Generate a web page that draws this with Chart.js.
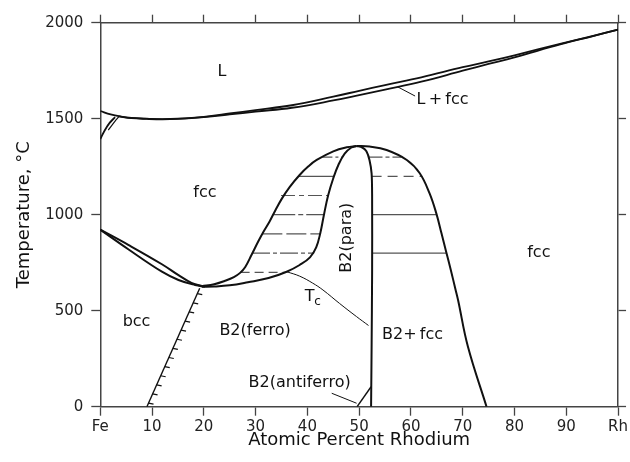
<!DOCTYPE html>
<html>
<head>
<meta charset="utf-8">
<script src="https://cdn.jsdelivr.net/npm/chart.js@4.4.1/dist/chart.umd.min.js"></script>
<style>
  html, body { margin: 0; background: #fff; }
  #wrap { width: 630px; height: 462px; }
</style>
</head>
<body>
<div id="wrap"><canvas id="phaseChart" width="630" height="462"></canvas></div>
<script>
// Fe-Rh phase diagram: temperature (°C) vs atomic percent rhodium
const xTicks = [0, 10, 20, 30, 40, 50, 60, 70, 80, 90, 100];
const xTickLabels = ['Fe', '10', '20', '30', '40', '50', '60', '70', '80', '90', 'Rh'];
const yTicks = [0, 500, 1000, 1500, 2000];

// liquidus / solidus
const liquidusX = [0, 2, 4, 6, 9, 12, 15, 20, 25, 30, 37, 45, 50, 55, 62, 70, 75, 80, 89, 95, 100];
const liquidusT = [1540, 1522, 1511, 1504, 1500, 1498, 1500, 1510, 1527, 1545, 1570, 1615, 1645, 1675, 1715, 1768, 1798, 1830, 1891, 1930, 1964];
const solidusX = [3.5, 6, 9, 12, 15, 20, 25, 30, 37, 45, 50, 55, 62, 70, 75, 80, 89, 95, 100];
const solidusT = [1512, 1503, 1499, 1497, 1499, 1508, 1522, 1537, 1557, 1595, 1623, 1652, 1693, 1750, 1785, 1820, 1888, 1929, 1964];

// small delta (bcc) loop at the Fe side
const deltaAX = [0, 0.9, 1.8, 2.85];
const deltaAT = [1394, 1441, 1478, 1508];
const deltaBX = [1.55, 2.3, 3.0, 3.6];
const deltaBT = [1441, 1468, 1492, 1512];

// fcc / bcc boundaries
const gammaX = [0, 5.4, 11.9, 15.1, 17.6, 19.6];
const gammaT = [922, 843, 742, 685, 645, 629];
const alphaX = [0, 5.4, 11.9, 15.1, 18.3, 20.2];
const alphaT = [922, 820, 703, 660, 634, 625];

// B2 phase field
const b2LeftX = [19.6, 22, 25, 28.5, 32.5, 36, 38.5, 40.5, 41.7, 42.5, 43.2, 44, 45, 46, 47.2, 48.5, 49.5];
const b2LeftT = [625, 626, 632, 648, 670, 703, 738, 778, 830, 905, 1000, 1100, 1190, 1260, 1318, 1350, 1358];
const b2RightX = [49.5, 50.6, 51.4, 52.0, 52.4, 52.5, 52.5, 52.4, 52.3];
const b2RightT = [1358, 1350, 1330, 1284, 1215, 1100, 700, 300, 0];

// fcc boundaries of the two-phase dome
const fccLeftX = [19.6, 22, 24, 25.8, 27, 28, 29.2, 30.5, 31.6, 32.7, 33.8, 35.1, 36.6, 38.5, 40.2, 41.8, 45, 47.6, 49.5];
const fccLeftT = [628, 638, 655, 675, 697, 728, 790, 860, 915, 965, 1022, 1085, 1145, 1207, 1252, 1285, 1330, 1351, 1358];
const fccRightX = [49.5, 52, 55.3, 59.2, 61.7, 63.6, 64.9, 65.9, 66.8, 67.7, 68.55, 69.1, 71.0, 74.6];
const fccRightT = [1358, 1355, 1337, 1285, 1216, 1111, 1007, 903, 807, 712, 617, 556, 313, 0];

// tie lines
const tieLeftT = [1300, 1200, 1100, 1000, 900, 800, 700];
const tieLeftFrom = [42.9, 38.3, 34.9, 33.4, 31.3, 29.3, 27.1];
const tieLeftTo = [46.8, 45.1, 44.0, 43.2, 42.5, 41.3, 35.9];
const tieRightT = [1300, 1200, 1000, 800];
const tieRightFrom = [51.8, 52.4, 52.5, 52.5];
const tieRightTo = [58.1, 62.0, 64.9, 66.8];

// magnetic transitions
const tcX = [36, 38.5, 41, 43, 46.2, 49.5, 51.8];
const tcT = [703, 680, 644, 608, 538, 469, 423];
const antiX = [52.3, 49.6];
const antiT = [104, 0];
const martX = [9.0, 19.2];
const martT = [0, 617];

const pts = (xs, ts) => xs.map((x, i) => ({ x: x, y: ts[i] }));

function curve(xs, ts, width, extra) {
  return Object.assign({
    data: pts(xs, ts),
    showLine: true,
    borderColor: '#111',
    borderWidth: width,
    pointRadius: 0,
    tension: 0.4,
    fill: false
  }, extra || {});
}

const straight = { tension: 0 };
const leftDash = [[10, 3, 3, 3], [40, 2], [14, 4, 5, 4], [22, 3, 5, 3], [20, 4], [18, 3, 4, 3], [9, 5]];
const rightDash = [[14, 3, 4, 3], [10, 6], [], []];

const datasets = [
  curve(liquidusX, liquidusT, 1.8),
  curve(solidusX, solidusT, 1.8),
  curve(deltaAX, deltaAT, 1.8),
  curve(deltaBX, deltaBT, 1.2),
  curve(gammaX, gammaT, 2),
  curve(alphaX, alphaT, 2),
  curve(b2LeftX, b2LeftT, 2),
  curve(b2RightX, b2RightT, 2, { tension: 0.3 }),
  curve(fccLeftX, fccLeftT, 2),
  curve(fccRightX, fccRightT, 2),
  curve(tcX, tcT, 1),
  curve(antiX, antiT, 1.4, straight),
  curve(martX, martT, 1.4, straight),
  curve([44.7, 49.5], [70, 18], 1, straight),
  curve([57.5, 60.8], [1665, 1618], 1, straight)
];
tieLeftT.forEach((t, i) => datasets.push(curve([tieLeftFrom[i], tieLeftTo[i]], [t, t], 1.2,
  { tension: 0, borderColor: '#555', borderDash: leftDash[i] })));
tieRightT.forEach((t, i) => datasets.push(curve([tieRightFrom[i], tieRightTo[i]], [t, t], 1.2,
  { tension: 0, borderColor: '#555', borderDash: rightDash[i] })));

// phase labels: [text, at.% Rh, temperature, rotated]
const labels = [
  ['L', 23.5, 1743, false],
  ['L\u2009+\u2009fcc', 66.1, 1600, false],
  ['fcc', 20.2, 1113, false],
  ['bcc', 7.0, 443, false],
  ['B2(ferro)', 29.9, 396, false],
  ['B2(para)', 47.6, 880, true],
  ['B2+\u2009fcc', 60.3, 373, false],
  ['B2(antiferro)', 38.5, 122, false],
  ['fcc', 84.7, 800, false]
];

const annotate = {
  id: 'annotate',
  afterDatasetsDraw(chart) {
    const { ctx, scales: { x, y } } = chart;
    ctx.save();
    ctx.fillStyle = '#111';
    ctx.font = '16px "DejaVu Sans"';
    ctx.textAlign = 'center';
    ctx.textBaseline = 'middle';
    labels.forEach(([txt, lx, lt, rot]) => {
      const px = x.getPixelForValue(lx), py = y.getPixelForValue(lt);
      if (rot) {
        ctx.save();
        ctx.translate(px, py);
        ctx.rotate(-Math.PI / 2);
        ctx.fillText(txt, 0, 0);
        ctx.restore();
      } else {
        ctx.fillText(txt, px, py);
      }
    });
    // T with subscript c
    const tx = x.getPixelForValue(41.0), ty = y.getPixelForValue(571);
    ctx.fillText('T', tx - 3, ty);
    ctx.font = '12px "DejaVu Sans"';
    ctx.fillText('c', tx + 5, ty + 5);

    // hatch marks along the bcc/B2 boundary
    const x0 = x.getPixelForValue(martX[0]), y0 = y.getPixelForValue(martT[0]);
    const x1 = x.getPixelForValue(martX[1]), y1 = y.getPixelForValue(martT[1]);
    ctx.strokeStyle = '#111';
    ctx.lineWidth = 1.2;
    const n = 13;
    for (let i = 0; i < n; i++) {
      const f = (i + 0.4) / n;
      const hx = x0 + (x1 - x0) * f, hy = y0 + (y1 - y0) * f;
      ctx.beginPath();
      ctx.moveTo(hx, hy);
      ctx.lineTo(hx + 5, hy + 1);
      ctx.stroke();
    }
    ctx.restore();
  }
};

const axisColor = '#444';
const tickFont = { family: 'DejaVu Sans', size: 15 };
const titleFont = { family: 'DejaVu Sans', size: 18 };

new Chart(document.getElementById('phaseChart'), {
  type: 'scatter',
  data: { datasets: datasets },
  options: {
    responsive: false,
    animation: false,
    layout: { padding: 0 },
    plugins: { legend: { display: false }, tooltip: { enabled: false } },
    scales: {
      x: {
        type: 'linear', position: 'bottom', min: 0, max: 100,
        afterBuildTicks: s => { s.ticks = xTicks.map(v => ({ value: v })); },
        ticks: { callback: (v, i) => xTickLabels[i], font: tickFont, color: '#222', padding: 2, maxRotation: 0, autoSkip: false },
        grid: { drawOnChartArea: false, tickLength: 9, color: axisColor, tickWidth: 1.3 },
        border: { display: true, color: axisColor, width: 1.5 },
        title: { display: true, text: 'Atomic Percent Rhodium', font: titleFont, color: '#111', padding: { top: 0, bottom: 11 } },
        afterFit: s => { s.height = 55.3; }
      },
      xTop: {
        type: 'linear', position: 'top', min: 0, max: 100, display: true,
        afterBuildTicks: s => { s.ticks = xTicks.map(v => ({ value: v })); },
        ticks: { display: false },
        grid: { drawOnChartArea: false, tickLength: 8, color: axisColor, tickWidth: 1.3 },
        border: { display: true, color: axisColor, width: 1.5 },
        afterFit: s => { s.height = 22.7; }
      },
      y: {
        type: 'linear', position: 'left', min: 0, max: 2000,
        afterBuildTicks: s => { s.ticks = yTicks.map(v => ({ value: v })); },
        ticks: { callback: v => String(v), font: tickFont, color: '#222', padding: 8 },
        grid: { drawOnChartArea: false, tickLength: 9, color: axisColor, tickWidth: 1.3 },
        border: { display: true, color: axisColor, width: 1.5 },
        title: { display: true, text: 'Temperature, °C', font: titleFont, color: '#111', padding: { top: 14, bottom: 0 } },
        afterFit: s => { s.width = 100.3; }
      },
      yRight: {
        type: 'linear', position: 'right', min: 0, max: 2000, display: true,
        afterBuildTicks: s => { s.ticks = yTicks.map(v => ({ value: v })); },
        ticks: { display: false },
        grid: { drawOnChartArea: false, tickLength: 8, color: axisColor, tickWidth: 1.3 },
        border: { display: true, color: axisColor, width: 1.5 },
        afterFit: s => { s.width = 11.7; }
      }
    }
  },
  plugins: [annotate]
});
</script>
</body>
</html>
